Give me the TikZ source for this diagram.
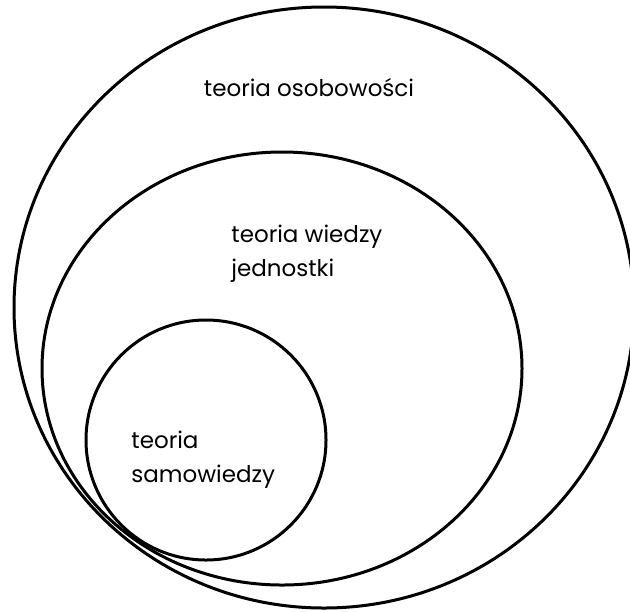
\documentclass[tikz,border=0pt]{standalone}
\usepackage{fontspec}
\setmainfont{Poppins}
\usetikzlibrary{shapes.geometric}

\begin{document}
\begin{tikzpicture}[x=0.5pt, y=-0.5pt, font=\fontsize{11.5}{16.8}\selectfont]
\tikzstyle{ring}=[ellipse, draw=black, line width=1.5pt, inner sep=0pt, outer sep=0pt]
\tikzstyle{label}=[inner sep=0pt, align=left, anchor=west]
\useasboundingbox (0,0) rectangle (630,611);
\node (osob) [ring, minimum width=310pt, minimum height=300.5pt] at (324,307.5) {};
\node (wiedza) [ring, minimum width=240pt, minimum height=216.5pt] at (282,368.5) {};
\node (samo) [ring, minimum width=120pt, minimum height=120pt] at (206,440) {};
\node (osobtxt) [inner sep=0pt] at (309,88) {teoria osobowości};
\node (wiedzatxt) [label] at (231,253.5) {teoria wiedzy\\jednostki};
\node (samotxt) [label] at (131,460) {teoria\\samowiedzy};
\end{tikzpicture}
\end{document}
